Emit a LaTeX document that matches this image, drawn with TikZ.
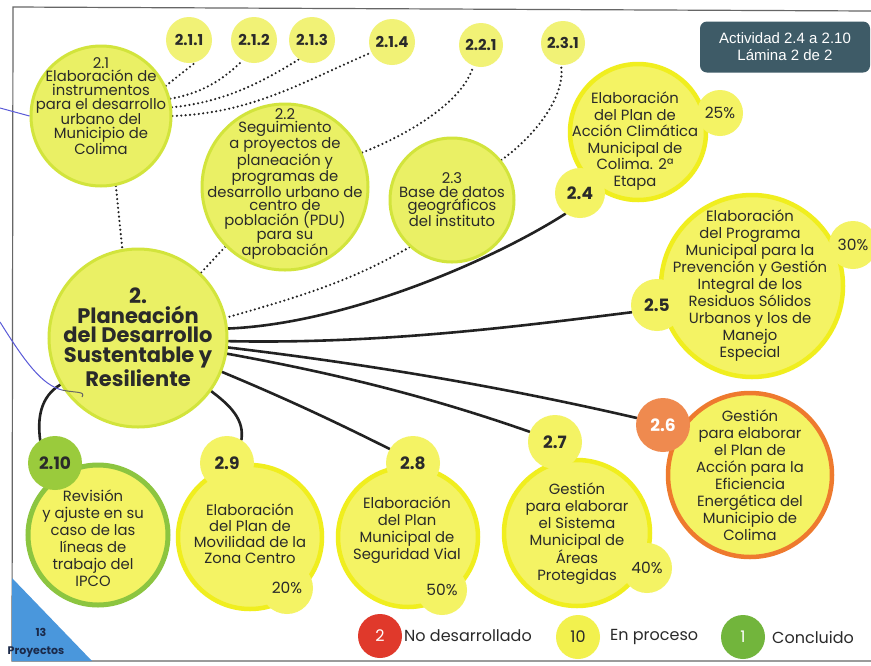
\documentclass[tikz,border=0pt]{standalone}
\usepackage{fontspec}
\setmainfont{Poppins}
\newfontfamily\arialf{Liberation Sans}
\usetikzlibrary{backgrounds}
\definecolor{yfill}{HTML}{F4F364}
\definecolor{yedge}{HTML}{F0EE1E}
\definecolor{sfill}{HTML}{F1F276}
\definecolor{gfill}{HTML}{EAF065}
\definecolor{gedge}{HTML}{D2E43C}
\definecolor{oedge}{HTML}{EE7A2E}
\definecolor{ofill}{HTML}{EF8A4F}
\definecolor{grnedge}{HTML}{8CC540}
\definecolor{grnfill}{HTML}{9ACB3C}
\definecolor{lred}{HTML}{E0392B}
\definecolor{lyel}{HTML}{F2F14E}
\definecolor{lgrn}{HTML}{72B53C}
\definecolor{boxc}{HTML}{3E5B67}
\definecolor{triblue}{HTML}{4A97DC}
\definecolor{navy}{HTML}{1B2A4A}
\definecolor{tcol}{HTML}{2A2A2A}
\definecolor{linec}{HTML}{222222}
\definecolor{framec}{HTML}{666666}
\definecolor{penblue}{HTML}{5A5AD8}
\begin{document}
\begin{tikzpicture}[x=1pt,y=-1pt,
  bigy/.style={circle, inner sep=0, fill=yfill, draw=yedge, line width=4.5pt, minimum size=#1},
  bigg/.style={circle, inner sep=0, fill=gfill, draw=gedge, line width=3pt, minimum size=#1},
  bigo/.style={circle, inner sep=0, fill=yfill, draw=oedge, line width=4.5pt, minimum size=#1},
  biggr/.style={circle, inner sep=0, fill=yfill, draw=grnedge, line width=5pt, minimum size=#1},
  numc/.style={circle, inner sep=0, fill=yfill, minimum size=#1, text=tcol, font=\bfseries\fontsize{17}{17}\selectfont},
  topc/.style={circle, inner sep=0, fill=sfill, minimum size=#1, text=tcol, font=\bfseries\fontsize{15}{15}\selectfont},
  pctc/.style={circle, inner sep=0, fill=yfill, minimum size=#1, text=tcol, font=\fontsize{15.5}{15.5}\selectfont},
  body/.style={align=center, inner sep=0, text=tcol, font=\fontsize{14.8}{#1}\selectfont},
  dotline/.style={draw=linec, line width=2.4pt, line cap=round, dash pattern=on 0pt off 4.4pt},
  solidline/.style={draw=linec, line width=2.6pt, line cap=round},
  legc/.style={circle, inner sep=0, minimum size=44, font=\fontsize{16}{16}\selectfont},
  legt/.style={anchor=west, inner sep=0, text=tcol, font=\fontsize{16}{16}\selectfont}
]
\useasboundingbox (0,0) rectangle (871,665);

% frame
\draw[framec, line width=1.2pt] (871,11) -- (13,7) -- (12,661) -- (871,661);

% blue triangle
\fill[triblue] (12,578) -- (12,661) -- (92,661) -- cycle;
\node[inner sep=0, text=navy, font=\bfseries\fontsize{11}{11}\selectfont] (n13) at (41,632) {13};
\node[inner sep=0, text=navy, font=\bfseries\fontsize{11}{11}\selectfont] (nproy) at (36,652) {Proyectos};

% big circles
\node[bigg=178] (M) at (138,338) {};
\node[bigg=140] (n21) at (101,116) {};
\node[bigg=166] (n22) at (285,187) {};
\node[bigg=124] (n23) at (452,200) {};
\node[bigy=136] (n24) at (638,132) {};
\node[bigy=182] (n25) at (752,286) {};
\node[bigo=164] (n26) at (750,475) {};
\node[bigy=146] (n27) at (577,533) {};
\node[bigy=140] (n28) at (408,537) {};
\node[bigy=144] (n29) at (250,537) {};
\node[biggr=140] (n210) at (98,535) {};

% top small circles
\node[topc=46] (n211) at (189,40) {2.1.1};
\node[topc=46] (n212) at (254,40) {2.1.2};
\node[topc=46] (n213) at (312,40) {2.1.3};
\node[topc=46] (n214) at (392,42) {2.1.4};
\node[topc=44] (n221) at (481,45) {2.2.1};
\node[topc=44] (n231) at (563,43) {2.3.1};

% number and percent circles
\node[numc=50] (s24) at (580,193) {2.4};
\node[pctc=46] (p24) at (720,113) {25\%};
\node[numc=52] (s25) at (657,305) {2.5};
\node[pctc=48] (p25) at (853,245) {30\%};
\node[numc=54, fill=ofill, text=white] (s26) at (663,425) {2.6};
\node[numc=54] (s27) at (555,442) {2.7};
\node[pctc=50] (p27) at (647,568) {40\%};
\node[numc=54] (s28) at (413,463) {2.8};
\node[pctc=50] (p28) at (442,590) {50\%};
\node[numc=54] (s29) at (227,463) {2.9};
\node[pctc=52] (p29) at (287,588) {20\%};
\node[numc=54, fill=grnfill] (s210) at (55,463) {2.10};

% connectors
\begin{scope}[on background layer]
\fill[white] (0,0) rectangle (871,665);
\draw[dotline] (n21.25) -- (n211.287);
\draw[dotline] (n21.14) .. controls +(30,-5) and +(-20,20) .. (n212.241);
\draw[dotline] (n21.7) .. controls +(50,-5) and +(-40,25) .. (n213.236);
\draw[dotline] (n21.0) .. controls +(80,-3) and +(-70,30) .. (n214.207);
\draw[dotline] (n22.24) .. controls +(50,-20) and +(-10,35) .. (n221.250);
\draw[dotline] (n23.39) .. controls +(35,-25) and +(5,30) .. (n231.265);
\draw[dotline] (n23.228) .. controls +(-60,35) and +(70,-20) .. (M.13);
\draw[dotline] (n21.282) -- (M.100);
\draw[dotline] (n22.225) -- (M.46);
\draw[solidline] (M.6) .. controls +(120,-5) and +(-70,45) .. (s24.235);
\draw[solidline] (M.-2.5) .. controls +(150,3) and +(-120,15) .. (s25.196);
\draw[solidline] (M.-6.3) .. controls +(150,18) and +(-130,-30) .. (s26.165);
\draw[solidline] (M.-10.6) .. controls +(110,20) and +(-100,-35) .. (s27.158);
\draw[solidline] (M.-22) .. controls +(60,25) and +(-60,-30) .. (s28.149);
\draw[solidline] (M.-36.6) .. controls +(20,15) and +(3,-20) .. (s29.58);
\draw[solidline] (M.211.5) .. controls +(-20,12) and +(-3,-22) .. (s210.123);
\end{scope}

% pen marks
\coordinate (pa) at (0,108);
\coordinate (pb) at (0,322);
\coordinate (pc) at (62,390);
\draw[penblue, line width=1pt] (pa) -- (n21.west);
\draw[penblue, line width=1pt] (pb) .. controls (25,362) and (42,385) .. (pc);
\draw[framec, line width=1pt] (pc) .. controls (75,393) and (86,391) .. (82,397);

% texts
\node[align=center, inner sep=0, text=tcol, font=\bfseries\fontsize{21}{19.8}\selectfont] (tM) at (138,337) {2.\\Planeación\\del Desarrollo\\Sustentable y\\Resiliente};
\node[body=13.7] (t21) at (101,106) {2.1\\Elaboración de\\instrumentos\\para el desarrollo\\urbano del\\Municipio de\\Colima};
\node[body=13.6] (t22) at (285,184) {2.2\\Seguimiento\\a proyectos de\\planeación y\\programas de\\desarrollo urbano de\\centro de\\población (PDU)\\para su\\aprobación};
\node[body=13.3] (t23) at (452,200) {2.3\\Base de datos\\geográficos\\del instituto};
\node[body=16.6] (t24) at (635,141) {Elaboración\\del Plan de\\Acción Climática\\Municipal de\\Colima. 2ª\\Etapa};
\node[body=17] (t25) at (750,286) {Elaboración\\del Programa\\Municipal para la\\Prevención y Gestión\\Integral de los\\Residuos Sólidos\\Urbanos y los de\\Manejo\\Especial};
\node[body=17] (t26) at (750,475) {Gestión\\para elaborar\\el Plan de\\Acción para la\\Eficiencia\\Energética del\\Municipio de\\Colima};
\node[body=16.8] (t27) at (577,534) {Gestión\\para elaborar\\el Sistema\\Municipal de\\Áreas\\Protegidas};
\node[body=17] (t28) at (407,530) {Elaboración\\del Plan\\Municipal de\\Seguridad Vial};
\node[body=16] (t29) at (250,534) {Elaboración\\del Plan de\\Movilidad de la\\Zona Centro};
\node[body=17] (t210) at (93,538) {Revisión\\y ajuste en su\\caso de las\\líneas de\\trabajo del\\IPCO};

% title box
\node[fill=boxc, rounded corners=7pt, minimum width=170, minimum height=51, inner sep=0, align=center, text=white, font=\arialf\fontsize{15}{17}\selectfont] (title) at (785,47) {Actividad 2.4 a 2.10\\Lámina 2 de 2};

% legend
\node[legc, fill=lred, text=white] (lg2) at (380,636) {2};
\node[legt] (lt2) at (404,636) {No desarrollado};
\node[legc, fill=lyel, text=tcol] (lg10) at (578,637) {10};
\node[legt] (lt10) at (610,637) {En proceso};
\node[legc, fill=lgrn, text=white] (lg1) at (743,637) {1};
\node[legt] (lt1) at (772,637) {Concluido};
\end{tikzpicture}
\end{document}
